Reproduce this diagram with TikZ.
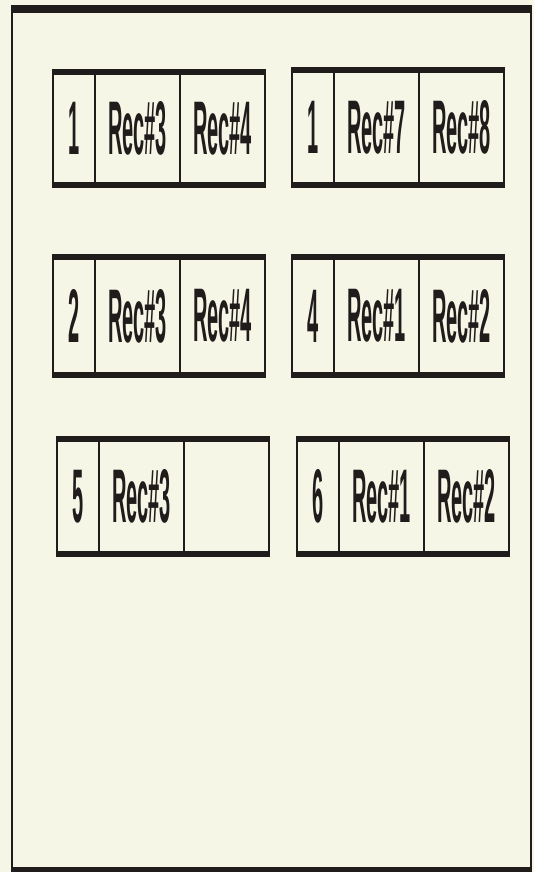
\documentclass[tikz,border=0pt]{standalone}
\usepackage{fontspec}
\setmainfont{Liberation Sans}
\definecolor{paper}{RGB}{246,246,230}
\definecolor{ink}{RGB}{32,28,28}
\tikzset{
  thin rule/.style={draw=ink,line width=1.6pt},
  thick rule/.style={draw=ink,line width=5pt},
  cell text/.style={inner sep=0pt,text=ink,font=\fontsize{40}{40}\selectfont\bfseries},
}
\newcommand{\rtxt}[1]{\scalebox{0.5}[1.9]{#1}}

\begin{document}
\begin{tikzpicture}[x=1pt,y=-1pt]
  \fill[paper] (0,0) rectangle (534,872);
  \useasboundingbox (0,0) rectangle (534,872);
  % outer frame
  \draw[thin rule] (12,9) rectangle (531,869);
  \draw[ink,line width=8pt] (11,9) -- (532,9);
  \draw[ink,line width=5pt] (11,869.5) -- (532,869.5);
  % record blocks: x/y/height/number/first rec/second rec (0 = empty)
  \foreach \bx/\by/\bh/\n/\ra/\rb [count=\i] in {53/70/117/1/3/4, 292/68/119/1/7/8,
      53/255/122/2/3/4, 292/255/122/4/1/2, 57/437/119/5/3/0, 297/437/119/6/1/2}{
    \draw[thin rule] (\bx,\by) rectangle ++(212,\bh);
    \draw[thin rule] (\bx+42,\by) -- ++(0,\bh);
    \draw[thin rule] (\bx+127,\by) -- ++(0,\bh);
    \draw[thick rule] (\bx-0.8,\by+2.5) -- ++(213.6,0);
    \draw[thick rule] (\bx-0.8,\by+\bh-2.5) -- ++(213.6,0);
    \node[cell text] (num\i) at (\bx+21,\by+\bh/2) {\rtxt{\n}};
    \node[cell text] (ra\i) at (\bx+84.5,\by+\bh/2) {\rtxt{Rec\#\ra}};
    \ifnum\rb>0
      \node[cell text] (rb\i) at (\bx+169.5,\by+\bh/2) {\rtxt{Rec\#\rb}};
    \fi
  }
\end{tikzpicture}
\end{document}
